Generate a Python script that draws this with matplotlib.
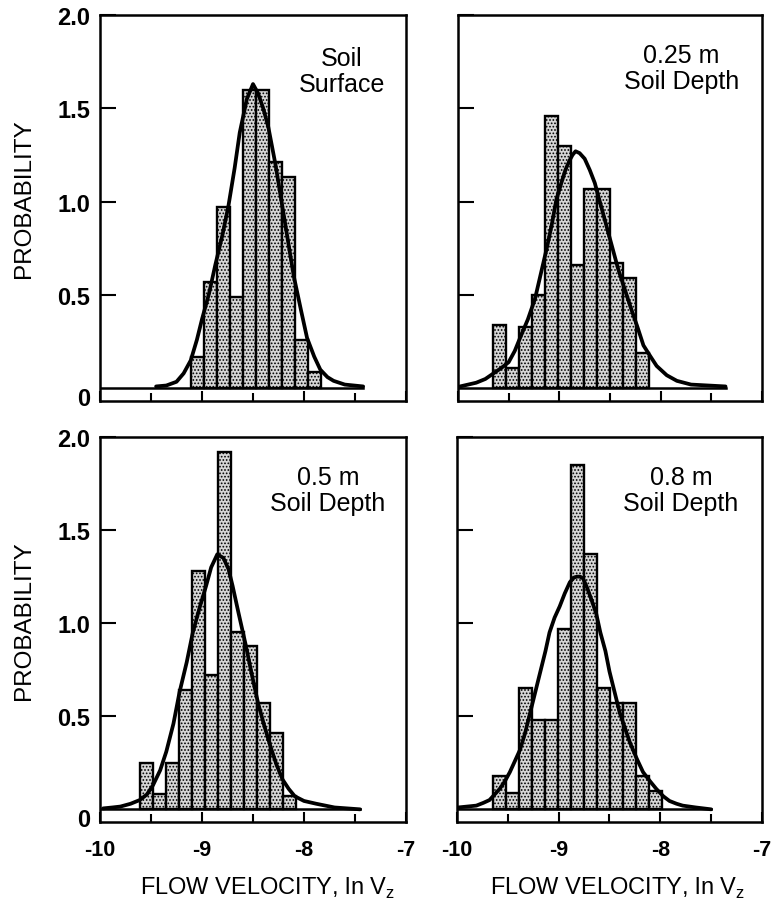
import numpy as np
import matplotlib.pyplot as plt
from matplotlib.transforms import blended_transform_factory

plt.rcParams['font.family'] = ['Liberation Sans', 'DejaVu Sans']
plt.rcParams['axes.unicode_minus'] = False
plt.rcParams['hatch.linewidth'] = 0.8

# histogram class width (ln Vz)
bin_width = 0.128

# soil surface
surface_start = -9.11
surface_heights = [0.17, 0.57, 0.97, 0.49, 1.60, 1.60, 1.21, 1.13, 0.26, 0.09]
surface_fit_x = [-9.45, -9.35, -9.25, -9.18, -9.11, -9.05, -9.0, -8.93, -8.87, -8.80,
                 -8.74, -8.68, -8.63, -8.56, -8.5, -8.45, -8.40, -8.35, -8.28, -8.22,
                 -8.16, -8.1, -8.03, -7.97, -7.90, -7.84, -7.77, -7.71, -7.60, -7.42]
surface_fit_y = [0.01, 0.015, 0.035, 0.08, 0.15, 0.26, 0.37, 0.51, 0.66, 0.82,
                 0.98, 1.18, 1.37, 1.55, 1.63, 1.58, 1.50, 1.40, 1.20, 1.00,
                 0.80, 0.60, 0.42, 0.27, 0.17, 0.10, 0.06, 0.04, 0.02, 0.01]

# 0.25 m depth
d025_start = -9.65
d025_heights = [0.34, 0.11, 0.33, 0.50, 1.46, 1.30, 0.66, 1.07, 1.07, 0.67, 0.59, 0.19]
d025_fit_x = [-9.98, -9.90, -9.82, -9.73, -9.65, -9.57, -9.50, -9.44, -9.38, -9.31,
              -9.24, -9.18, -9.12, -9.07, -9.03, -8.98, -8.94, -8.90, -8.87, -8.84,
              -8.80, -8.75, -8.70, -8.65, -8.58, -8.50, -8.42, -8.36, -8.30, -8.23,
              -8.17, -8.10, -8.04, -7.94, -7.84, -7.70, -7.36]
d025_fit_y = [0.01, 0.02, 0.03, 0.05, 0.08, 0.11, 0.14, 0.20, 0.28, 0.37,
              0.48, 0.62, 0.76, 0.89, 1.01, 1.10, 1.17, 1.22, 1.25, 1.27,
              1.26, 1.23, 1.17, 1.10, 0.96, 0.80, 0.64, 0.54, 0.44, 0.33,
              0.23, 0.17, 0.12, 0.07, 0.04, 0.02, 0.01]

# 0.5 m depth
d05_start = -9.61
d05_heights = [0.25, 0.08, 0.25, 0.64, 1.28, 0.72, 1.92, 0.95, 0.88, 0.57, 0.41, 0.07]
d05_fit_x = [-9.97, -9.88, -9.80, -9.70, -9.61, -9.54, -9.48, -9.41, -9.35, -9.28,
             -9.22, -9.15, -9.09, -9.02, -8.96, -8.91, -8.85, -8.79, -8.74, -8.70,
             -8.64, -8.57, -8.51, -8.45, -8.39, -8.33, -8.27, -8.21, -8.15, -8.09,
             -8.00, -7.88, -7.70, -7.45]
d05_fit_y = [0.005, 0.01, 0.015, 0.03, 0.05, 0.08, 0.13, 0.21, 0.31, 0.46,
             0.63, 0.79, 0.95, 1.09, 1.20, 1.30, 1.37, 1.35, 1.29, 1.20,
             1.05, 0.88, 0.72, 0.57, 0.45, 0.34, 0.24, 0.16, 0.11, 0.07,
             0.045, 0.03, 0.01, 0.0]

# 0.8 m depth
d08_start = -9.645
d08_heights = [0.18, 0.09, 0.65, 0.48, 0.48, 0.97, 1.85, 1.37, 0.65, 0.57, 0.57, 0.18, 0.10]
d08_fit_x = [-9.99, -9.90, -9.81, -9.74, -9.68, -9.63, -9.58, -9.53, -9.48, -9.43,
             -9.38, -9.33, -9.28, -9.23, -9.18, -9.13, -9.09, -9.04, -8.99, -8.94,
             -8.89, -8.85, -8.82, -8.79, -8.76, -8.72, -8.68, -8.63, -8.59, -8.54,
             -8.50, -8.45, -8.40, -8.35, -8.30, -8.23, -8.17, -8.10, -8.04, -7.97,
             -7.91, -7.84, -7.78, -7.65, -7.50]
d08_fit_y = [0.01, 0.015, 0.02, 0.035, 0.05, 0.08, 0.11, 0.15, 0.20, 0.26,
             0.32, 0.41, 0.52, 0.63, 0.74, 0.85, 0.95, 1.03, 1.09, 1.16,
             1.22, 1.245, 1.25, 1.25, 1.24, 1.19, 1.13, 1.05, 0.95, 0.85,
             0.74, 0.63, 0.52, 0.44, 0.36, 0.27, 0.20, 0.15, 0.11, 0.07,
             0.045, 0.03, 0.02, 0.01, 0.0]

x_ticks = [-10, -9, -8, -7]
x_tick_labels = ['-10', '-9', '-8', '-7']
x_minor = [-9.5, -8.5, -7.5]
y_ticks = [0.5, 1.0, 1.5, 2.0]

W, H = 771, 904
fig = plt.figure(figsize=(W / 100, H / 100), dpi=100)


def add_box(left, top, right, bottom):
    return fig.add_axes([left / W, 1 - bottom / H, (right - left) / W, (bottom - top) / H])


def draw_panel(ax, start, heights, fit_x, fit_y, label, label_pos, left_col, bottom_row):
    edges = start + bin_width * np.arange(len(heights))
    ax.bar(edges, heights, width=bin_width, align='edge', color='#d6d6d6',
           edgecolor='black', linewidth=1.7, hatch='.....', zorder=2)
    ax.plot([-10, fit_x[-1]], [0, 0], color='black', lw=1.8, zorder=3)
    ax.plot(fit_x, fit_y, color='black', lw=2.7, zorder=4,
            solid_capstyle='round', solid_joinstyle='round')

    ax.set_xlim(-10, -7)
    ax.set_ylim(-0.068, 2.0)
    for s in ax.spines.values():
        s.set_linewidth(1.8)

    if bottom_row:
        ax.set_xticks(x_ticks, labels=x_tick_labels, fontsize=15.5, fontweight='bold')
    else:
        ax.set_xticks(x_ticks)
    ax.set_xticks(x_minor, minor=True)
    ax.tick_params(axis='x', which='both', direction='in', width=1.5, pad=12,
                   labelbottom=bottom_row)
    ax.tick_params(axis='x', which='major', length=7.5)
    ax.tick_params(axis='x', which='minor', length=6)

    if left_col:
        ax.set_yticks(y_ticks, labels=['0.5', '1.0', '1.5', '2.0'],
                      fontsize=17, fontweight='bold')
    else:
        ax.set_yticks(y_ticks)
    ax.tick_params(axis='y', direction='in', length=11.5, width=1.5, pad=7,
                   labelleft=left_col)

    if left_col:
        tr = blended_transform_factory(ax.transAxes, ax.transData)
        ax.text(-0.033, -0.055, '0', transform=tr, ha='right', va='center',
                fontsize=17, fontweight='bold')
        ax.set_ylabel('PROBABILITY', fontsize=17.5)
        ax.yaxis.set_label_coords(-0.248, 0.526)
        ax.yaxis.label.set_va('center')
    if bottom_row:
        ax.set_xlabel('FLOW VELOCITY, ln V$_\\mathregular{z}$', fontsize=17)
        ax.xaxis.set_label_coords(0.546 if left_col else 0.525, -0.169)
        ax.xaxis.label.set_va('center')

    ax.text(label_pos[0], label_pos[1], label, transform=ax.transAxes,
            ha='center', va='center', fontsize=18, linespacing=1.1)


ax1 = add_box(100, 16, 406, 402)
ax2 = add_box(458, 16, 762, 402)
ax3 = add_box(100, 438, 406, 823)
ax4 = add_box(457, 438, 762, 823)

draw_panel(ax1, surface_start, surface_heights, surface_fit_x, surface_fit_y,
           'Soil\nSurface', (0.791, 0.855), True, False)
draw_panel(ax2, d025_start, d025_heights, d025_fit_x, d025_fit_y,
           '0.25 m\nSoil Depth', (0.734, 0.863), False, False)
draw_panel(ax3, d05_start, d05_heights, d05_fit_x, d05_fit_y,
           '0.5 m\nSoil Depth', (0.745, 0.862), True, True)
draw_panel(ax4, d08_start, d08_heights, d08_fit_x, d08_fit_y,
           '0.8 m\nSoil Depth', (0.734, 0.862), False, True)

fig.savefig('out.png', dpi=100)
